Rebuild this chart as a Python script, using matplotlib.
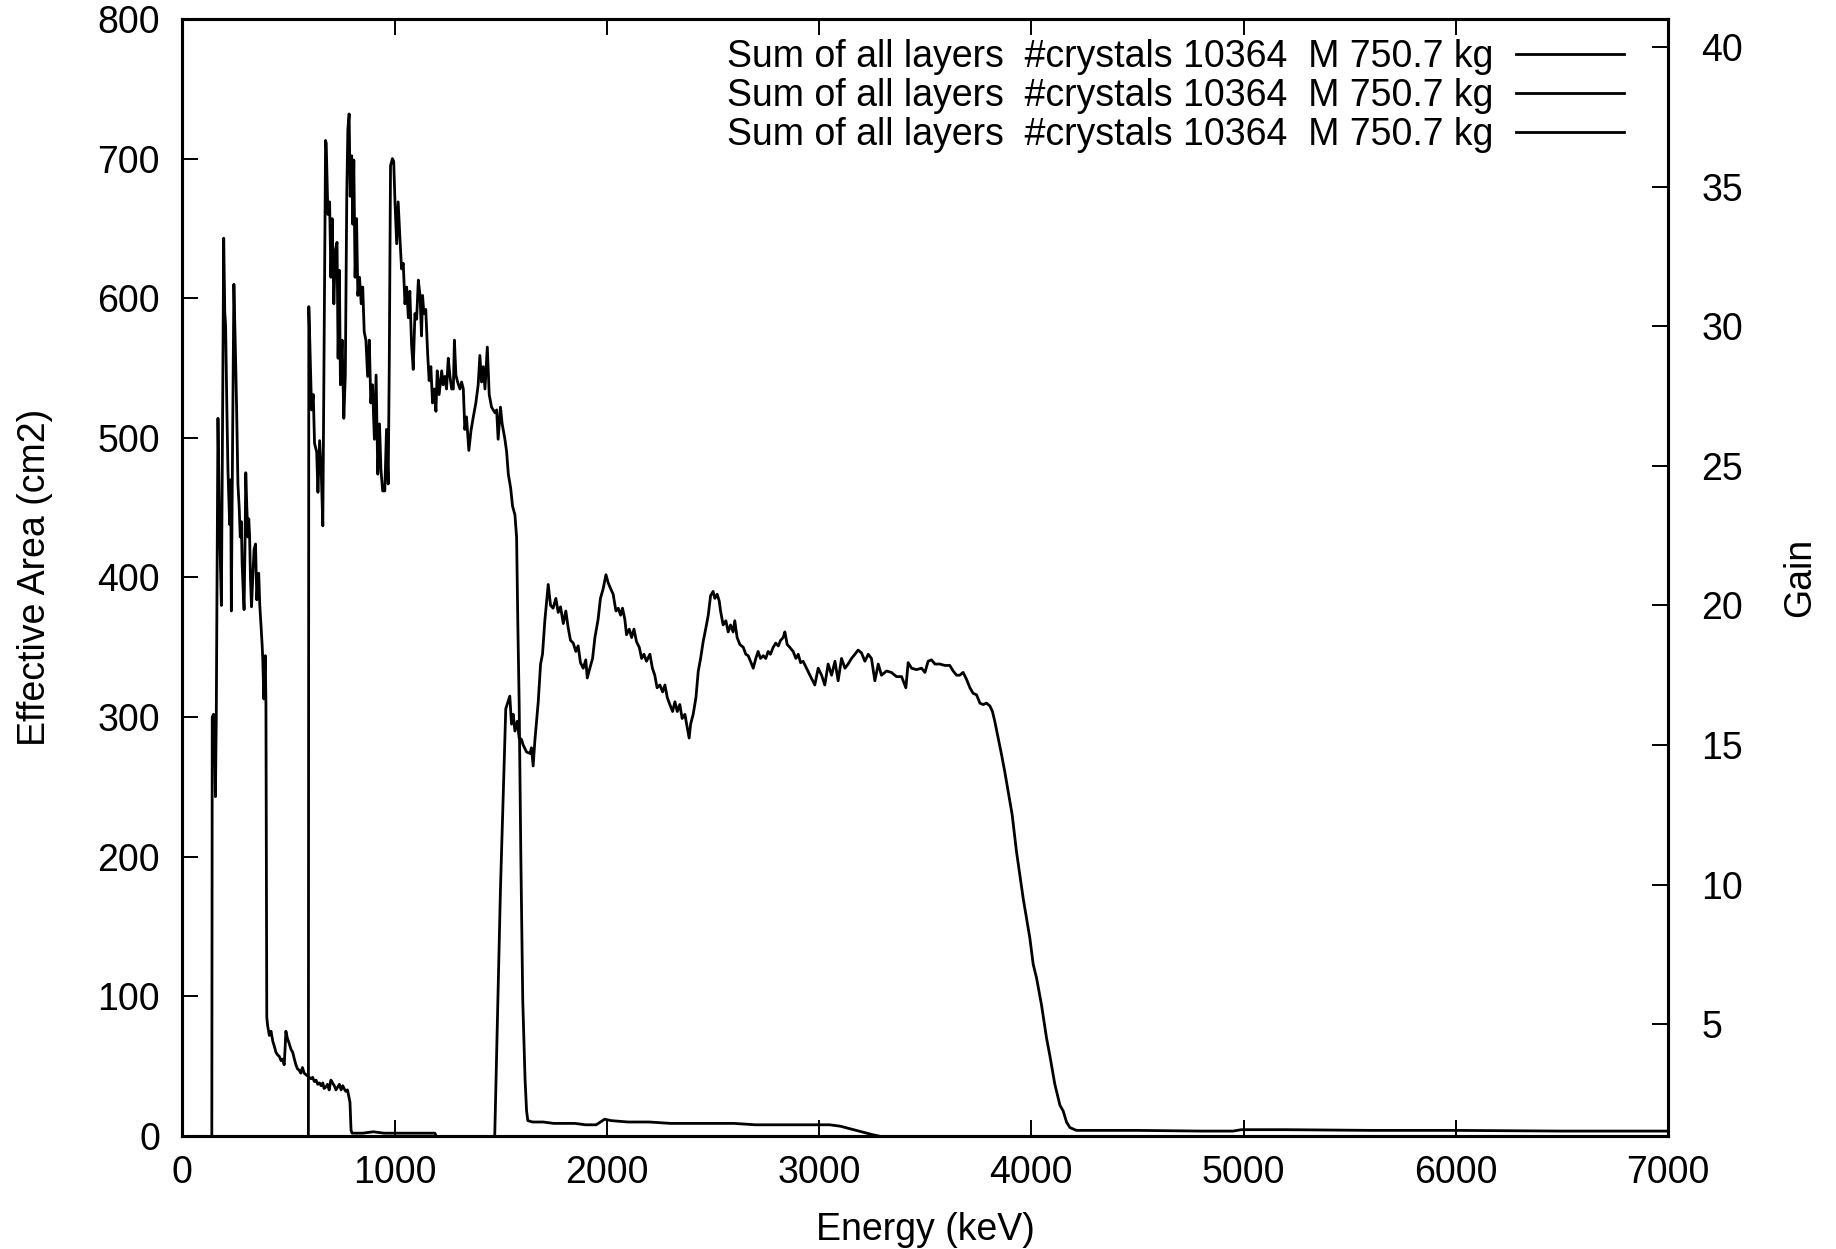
import matplotlib
matplotlib.use("Agg")
import matplotlib.pyplot as plt

plt.rcParams['font.family'] = ['Liberation Sans', 'DejaVu Sans']

# low-energy layer sum
energy_a = [139, 141, 147, 152, 156, 160, 168, 175, 184, 190, 195, 200, 204, 210, 215,
            223, 228, 231, 237, 243, 251, 256, 262, 268, 273, 278, 282, 287, 291, 296,
            299, 304, 309, 313, 317, 321, 326, 332, 338, 345, 351, 355, 360, 365, 371,
            376, 379, 384, 387, 391, 394, 398, 402, 410, 418, 426, 434, 441, 449, 457,
            465, 473, 480, 484, 488, 495, 504, 512, 520, 528, 535, 543, 551, 558, 566,
            574, 582, 590, 598, 606, 614, 622, 630, 638, 646, 654, 662, 668, 676, 684,
            692, 700, 708, 716, 724, 732, 740, 748, 756, 762, 770, 778, 785, 790, 795,
            800, 850, 900, 950, 1000, 1050, 1100, 1150, 1190, 1196]
area_a = [0, 300, 302, 290, 243, 300, 514, 440, 380, 520, 643, 590, 580, 520, 477,
          438, 470, 376, 500, 610, 557, 520, 467, 450, 429, 440, 409, 390, 377, 430,
          475, 450, 429, 442, 430, 400, 379, 400, 420, 424, 384, 395, 403, 380, 365,
          352, 342, 313, 330, 344, 309, 85, 79, 72, 75, 68, 64, 60, 58, 57,
          54, 55, 51, 62, 75, 70, 66, 62, 60, 55, 51, 48, 47, 45, 49,
          45, 44, 43, 42, 41, 42, 39, 40, 37, 38, 36, 38, 34, 35, 37,
          33, 40, 38, 36, 33, 35, 37, 33, 36, 34, 32, 33, 28, 24, 4,
          2, 2, 3, 2, 2, 2, 2, 2, 2, 0]

# mid-energy layer sum
energy_b = [594, 596, 601, 609, 617, 623, 633, 639, 647, 655, 662, 668, 675, 678, 686,
            694, 700, 706, 714, 721, 729, 734, 740, 745, 753, 761, 768, 775, 780, 786,
            791, 798, 803, 808, 814, 821, 827, 835, 843, 850, 857, 865, 873, 881, 888,
            896, 905, 913, 921, 929, 936, 944, 954, 962, 970, 975, 981, 990, 996, 1002,
            1010, 1017, 1025, 1033, 1041, 1049, 1057, 1065, 1072, 1080, 1088, 1096, 1104,
            1112, 1120, 1127, 1132, 1138, 1147, 1156, 1163, 1171, 1179, 1187, 1195, 1201,
            1210, 1222, 1229, 1237, 1245, 1253, 1261, 1269, 1277, 1282, 1289, 1297, 1308,
            1316, 1324, 1331, 1339, 1350, 1360, 1371, 1383, 1394, 1402, 1410, 1418, 1426,
            1437, 1446, 1457, 1465, 1473, 1481, 1488, 1499, 1507, 1520, 1528, 1536, 1547,
            1556, 1567, 1575, 1581, 1587, 1595, 1604, 1615, 1622, 1628, 1650, 1700, 1750,
            1800, 1850, 1900, 1950, 1970, 1990, 2020, 2100, 2200, 2300, 2400, 2500, 2600,
            2700, 2800, 2900, 3000, 3050, 3100, 3150, 3200, 3250, 3280]
area_b = [0, 594, 567, 520, 531, 496, 490, 461, 498, 474, 437, 560, 713, 711, 660,
          669, 615, 657, 596, 634, 640, 557, 620, 538, 570, 514, 545, 676, 721, 732,
          673, 702, 653, 699, 615, 657, 602, 615, 596, 608, 576, 570, 544, 570, 525,
          538, 499, 545, 474, 510, 477, 462, 462, 506, 467, 551, 695, 700, 698, 669,
          639, 669, 644, 621, 625, 596, 608, 586, 605, 567, 549, 589, 585,
          613, 602, 573, 602, 589, 592, 560, 541, 551, 525, 535, 519, 548,
          531, 548, 538, 544, 535, 557, 544, 535, 535, 570, 545, 540, 535,
          540, 535, 506, 515, 491, 505, 515, 525, 538, 559, 540, 551, 535,
          565, 531, 522, 520, 518, 520, 499, 522, 510, 499, 490, 474, 464,
          451, 445, 429, 365, 311, 200, 97, 40, 18, 11, 10, 10, 9,
          9, 9, 8, 8, 10, 12, 11, 10, 10, 9, 9, 9, 9,
          8, 8, 8, 8, 8, 7, 5, 3, 1, 0]

# high-energy layer sum
energy_c = [1472, 1499, 1524, 1543, 1551, 1559, 1567, 1578, 1587, 1598, 1606, 1622, 1638,
            1645, 1653, 1661, 1677, 1688, 1697, 1708, 1724, 1735, 1747, 1760, 1771, 1782,
            1795, 1807, 1818, 1829, 1842, 1854, 1865, 1876, 1889, 1901, 1908, 1920, 1933,
            1944, 1959, 1970, 1983, 1996, 2007, 2018, 2030, 2043, 2054, 2065, 2074, 2085,
            2093, 2106, 2117, 2128, 2140, 2153, 2164, 2175, 2187, 2203, 2215, 2226, 2237,
            2250, 2263, 2274, 2285, 2297, 2310, 2321, 2332, 2344, 2355, 2368, 2376, 2388,
            2395, 2407, 2420, 2431, 2442, 2454, 2467, 2478, 2489, 2501, 2509, 2520, 2530,
            2536, 2548, 2561, 2572, 2583, 2595, 2603, 2614, 2627, 2643, 2655, 2666, 2677,
            2690, 2702, 2713, 2724, 2737, 2749, 2760, 2771, 2784, 2796, 2808, 2819, 2831,
            2839, 2850, 2862, 2878, 2891, 2902, 2913, 2925, 2941, 2957, 2980, 2996, 3012,
            3027, 3043, 3059, 3075, 3090, 3106, 3122, 3137, 3153, 3169, 3184, 3200, 3216,
            3232, 3247, 3263, 3279, 3294, 3318, 3341, 3365, 3389, 3409, 3420, 3436, 3459,
            3483, 3499, 3514, 3530, 3546, 3569, 3593, 3616, 3632, 3648, 3663, 3679, 3695,
            3711, 3726, 3742, 3758, 3773, 3789, 3805, 3817, 3828, 3844, 3860, 3875, 3891,
            3910, 3930, 3962, 3993, 4009, 4025, 4048, 4072, 4087, 4111, 4135, 4150, 4166,
            4182, 4213, 4500, 4800, 4950, 4990, 5200, 5600, 6000, 6500, 7000]
area_c = [0, 177, 306, 315, 295, 302, 290, 297, 285, 284, 280, 275, 274,
          278, 265, 283, 311, 338, 345, 369, 395, 380, 378, 385, 375, 379,
          367, 376, 364, 355, 353, 347, 351, 339, 335, 341, 328, 335, 342,
          357, 370, 385, 392, 402, 396, 392, 388, 376, 378, 373, 378, 370,
          359, 363, 357, 363, 354, 350, 342, 345, 340, 345, 335, 330, 321,
          323, 318, 323, 314, 309, 304, 311, 304, 309, 299, 302, 295, 285,
          295, 302, 314, 333, 342, 354, 364, 373, 387, 390, 385, 388, 383,
          376, 366, 369, 361, 366, 361, 369, 357, 352, 350, 345, 344, 340,
          335, 342, 347, 342, 344, 342, 347, 345, 350, 353, 351, 355, 357,
          361, 352, 350, 347, 342, 345, 339, 340, 335, 330, 323, 335, 330,
          323, 338, 330, 340, 326, 342, 335, 338, 342, 345, 348, 346, 340,
          345, 342, 326, 338, 330, 333, 332, 329, 329, 321, 339, 335, 334,
          335, 332, 340, 341, 338, 338, 337, 337, 333, 330, 330, 332, 327,
          321, 317, 316, 310, 309, 310, 308, 304, 297, 285, 273, 261, 247,
          230, 204, 170, 142, 123, 113, 94, 70, 58, 37, 22, 18, 10,
          6, 4, 4, 3.5, 3.5, 4.5, 4.5, 4, 4, 3.5, 3.5]

label = "Sum of all layers  #crystals 10364  M 750.7 kg"
fs = 27

fig = plt.figure(figsize=(18.36, 12.49), dpi=100)
ax = fig.add_axes([0.0993, 0.0905, 0.8092, 0.8943])

lines = []
for e, a in [(energy_a, area_a), (energy_b, area_b), (energy_c, area_c)]:
    ln, = ax.plot(e, a, color='black', lw=2.0)
    lines.append(ln)

ax.set_xlim(0, 7000)
ax.set_ylim(0, 800)
ax.set_xticks(range(0, 7001, 1000))
ax.set_yticks(range(0, 801, 100))
ax.tick_params(axis='both', direction='in', length=11.5, width=1.4,
               labelsize=fs, top=True, right=True)
ax.tick_params(axis='x', pad=14)
ax.tick_params(axis='y', pad=16)
for sp in ax.spines.values():
    sp.set_linewidth(2.2)

ax.set_xlabel("Energy (keV)", fontsize=fs, labelpad=15)
ax.set_ylabel("Effective Area (cm2)", fontsize=fs, labelpad=32)

ax2 = ax.twinx()
ax2.set_ylim(1, 41)
ax2.set_yticks(range(5, 41, 5))
ax2.tick_params(axis='y', direction='in', length=11.5, width=1.4,
                labelsize=fs, pad=24)
for sp in ax2.spines.values():
    sp.set_linewidth(2.2)
ax2.set_ylabel("Gain", fontsize=fs, labelpad=28)

ax2.legend(lines, [label] * 3, loc='upper right', bbox_to_anchor=(0.9707, 0.982),
           borderaxespad=0, borderpad=0, frameon=False, markerfirst=False,
           handlelength=2.9, handletextpad=0.59, labelspacing=0.08, fontsize=fs)

fig.savefig("out.png", dpi=100)
